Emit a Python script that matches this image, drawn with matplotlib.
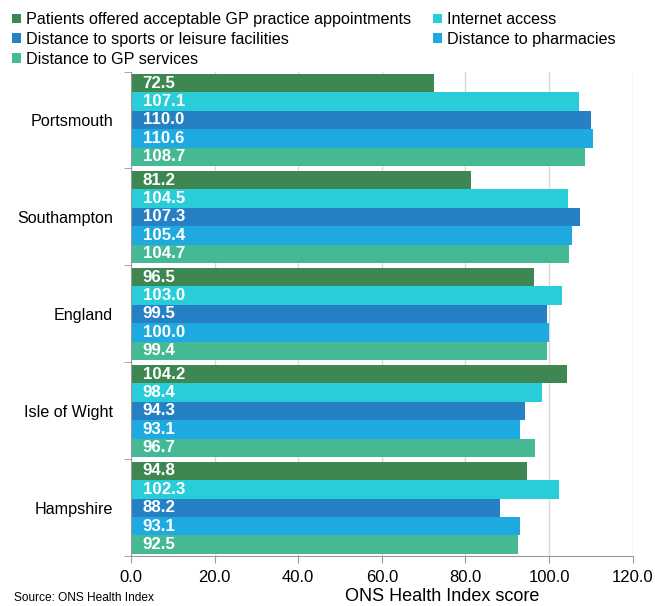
import numpy as np
import matplotlib.pyplot as plt

plt.rcParams['font.family'] = ['Liberation Sans', 'DejaVu Sans']

areas = ["Portsmouth", "Southampton", "England", "Isle of Wight", "Hampshire"]
series = [
    "Patients offered acceptable GP practice appointments",
    "Internet access",
    "Distance to sports or leisure facilities",
    "Distance to pharmacies",
    "Distance to GP services",
]
gp_appointments = [72.5, 81.2, 96.5, 104.2, 94.8]
internet_access = [107.1, 104.5, 103.0, 98.4, 102.3]
sports_leisure = [110.0, 107.3, 99.5, 94.3, 88.2]
pharmacies = [110.6, 105.4, 100.0, 93.1, 93.1]
gp_services = [108.7, 104.7, 99.4, 96.7, 92.5]
colors = ["#3e8752", "#29cdd7", "#2680c4", "#1eaae1", "#44b994"]

values = [gp_appointments, internet_access, sports_leisure, pharmacies, gp_services]

fig = plt.figure(figsize=(6.55, 6.06), dpi=100)
ax = fig.add_axes([0.2, 0.082, 0.766, 0.8])

# five bars per area, stacked tightly with a small gap between areas
bar_h = 0.19
centres = np.arange(len(areas))
for j, (name, vals, c) in enumerate(zip(series, values, colors)):
    y = centres + (j - 2) * bar_h
    ax.barh(y, vals, height=bar_h, color=c, label=name, zorder=2)
    for yy, v in zip(y, vals):
        ax.text(2.8, yy, f"{v:.1f}", color="white", fontweight="bold",
                fontsize=12.2, va="center", ha="left", zorder=3)

ax.set_ylim(len(areas) - 0.5, -0.5)
ax.set_xlim(0, 120)
ax.set_xticks(np.arange(0, 121, 20))
ax.set_xticklabels([f"{t:.1f}" for t in np.arange(0, 121, 20)], fontsize=12)
ax.set_yticks(centres)
ax.set_yticklabels(areas, fontsize=11.6)
ax.tick_params(axis="y", length=0, pad=13)
ax.set_yticks(np.arange(-0.5, len(areas), 1), minor=True)
ax.tick_params(axis="y", which="minor", length=5, color="#999999")
ax.tick_params(axis="x", length=5, color="#999999", direction="out", pad=5)

ax.grid(axis="x", color="#d9d9d9", linewidth=1, zorder=0)
for s in ["top", "right"]:
    ax.spines[s].set_visible(False)
ax.spines["left"].set_color("#999999")
ax.spines["bottom"].set_color("#999999")

fig.text(442 / 655, 1 - 588 / 606, "ONS Health Index score", fontsize=13,
         ha="center", va="top")
fig.text(0.021, 0.008, "Source: ONS Health Index", fontsize=8.6)

handles, labels = ax.get_legend_handles_labels()
order = [0, 2, 4, 1, 3]
fig.legend([handles[i] for i in order], [labels[i] for i in order],
           loc="upper left", bbox_to_anchor=(0.0, 1.0), ncol=2,
           frameon=False, fontsize=11.6, handlelength=0.55,
           handleheight=0.55, handletextpad=0.3, columnspacing=1.4,
           labelspacing=0.3, borderaxespad=0.35)

fig.savefig("out.png", dpi=100)
